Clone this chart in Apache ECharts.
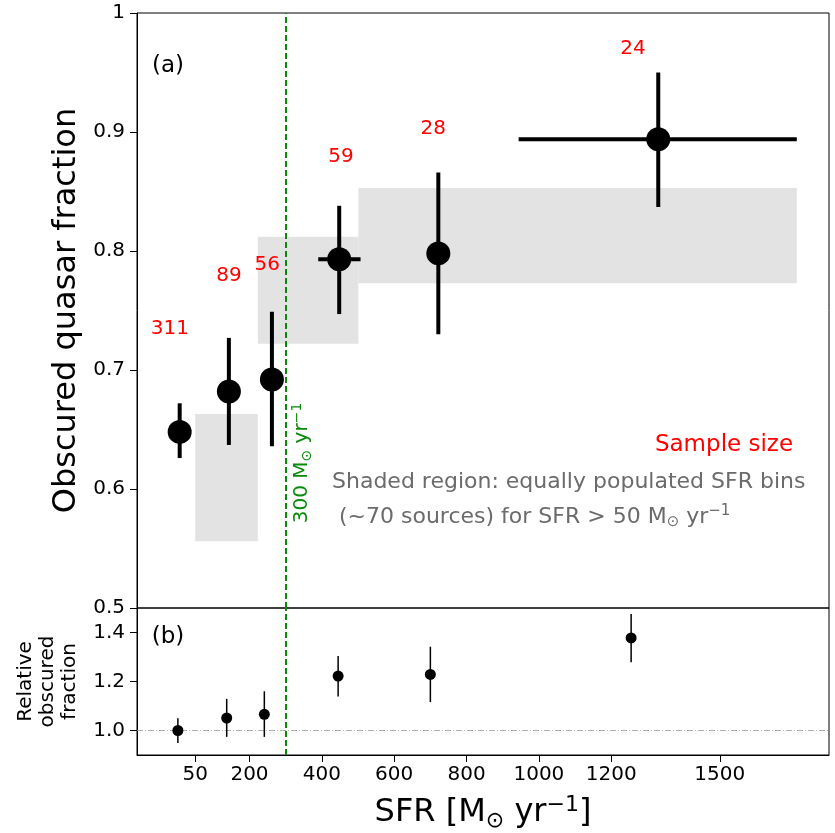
<!DOCTYPE html>
<html>
<head>
<meta charset="UTF-8">
<title>Obscured quasar fraction vs SFR</title>
<script src="https://cdn.jsdelivr.net/npm/echarts@6/dist/echarts.min.js"></script>
<style>
  * { margin: 0; padding: 0; }
  html, body { width: 835px; height: 833px; background: #fff; overflow: hidden; }
  #main { width: 835px; height: 833px; }
</style>
</head>
<body>
<div id="main"></div>
<script>
// ---- panel (a): obscured fraction per SFR bin ----
var sfrA    = [7, 143, 262, 448, 722, 1330];
var fracA   = [0.648, 0.682, 0.692, 0.793, 0.798, 0.894];
var fracLoA = [0.626, 0.637, 0.636, 0.747, 0.730, 0.837];
var fracHiA = [0.672, 0.727, 0.749, 0.838, 0.866, 0.950];
var sfrLoA  = [null, null, null, 390, null, 944];
var sfrHiA  = [null, null, null, 507, null, 1713];

// sample sizes and where they are written
var sampleSize = [311, 89, 56, 59, 28, 24];
var sampleX    = [-20, 143, 249, 453, 708, 1260];
var sampleY    = [0.735, 0.779, 0.788, 0.879, 0.903, 0.970];

// shaded, equally populated bins
var binLo     = [50, 223, 501];
var binHi     = [223, 501, 1713];
var binFracLo = [0.556, 0.722, 0.773];
var binFracHi = [0.663, 0.812, 0.853];

// ---- panel (b): relative obscured fraction ----
var sfrB   = [2, 137, 241, 445, 700, 1255];
var relB   = [1.000, 1.051, 1.066, 1.222, 1.229, 1.378];
var relLoB = [0.949, 0.974, 0.974, 1.139, 1.116, 1.279];
var relHiB = [1.050, 1.129, 1.160, 1.304, 1.342, 1.476];

// axes
var xTicks  = [50, 200, 400, 600, 800, 1000, 1200, 1500];
var yTicksB = [1.0, 1.2, 1.4];
var sfrCut  = 300;

var FONT = 'DejaVu Sans';
var GREEN = '#0a8a0a';
var GRAY = '#6b6b6b';
var chart = echarts.init(document.getElementById('main'));

function nz(v) { return v == null ? '-' : v; }

function errRender(lw) {
  return function (params, api) {
    var x = api.value(0), y = api.value(1);
    var kids = [];
    var a = api.coord([x, api.value(4)]), b = api.coord([x, api.value(5)]);
    kids.push({ type: 'line', shape: { x1: a[0], y1: a[1], x2: b[0], y2: b[1] },
                style: { stroke: '#000', lineWidth: lw } });
    var xl = api.value(2), xh = api.value(3);
    if (!isNaN(xl) && !isNaN(xh)) {
      var c = api.coord([xl, y]), d = api.coord([xh, y]);
      kids.push({ type: 'line', shape: { x1: c[0], y1: c[1], x2: d[0], y2: d[1] },
                  style: { stroke: '#000', lineWidth: lw } });
    }
    return { type: 'group', children: kids };
  };
}

function binRender(params, api) {
  var p0 = api.coord([api.value(0), api.value(3)]);
  var p1 = api.coord([api.value(1), api.value(2)]);
  return { type: 'rect',
           shape: { x: p0[0], y: p0[1], width: p1[0] - p0[0], height: p1[1] - p0[1] },
           style: { fill: '#e3e3e3' } };
}

// rich styles for the M_sun subscript and yr^-1 superscript
function unitRich(size, color) {
  var small = Math.round(size * 0.7);
  return {
    s: { fontFamily: FONT, fontSize: small, color: color, fill: color,
         verticalAlign: 'bottom', lineHeight: Math.round(size * 0.95) },
    p: { fontFamily: FONT, fontSize: small, color: color, fill: color,
         verticalAlign: 'top', lineHeight: small }
  };
}

var errA = sfrA.map(function (x, i) {
  return [x, fracA[i], nz(sfrLoA[i]), nz(sfrHiA[i]), fracLoA[i], fracHiA[i]];
});
var errB = sfrB.map(function (x, i) {
  return [x, relB[i], '-', '-', relLoB[i], relHiB[i]];
});
var bins = binLo.map(function (x, i) { return [x, binHi[i], binFracLo[i], binFracHi[i]]; });
var labels = sampleX.map(function (x, i) { return [x, sampleY[i], sampleSize[i]]; });

var tickLabel = { fontFamily: FONT, fontSize: 20, color: '#000' };

option = {
  animation: false,
  textStyle: { fontFamily: FONT },
  grid: [
    { left: 137, top: 13, width: 692, height: 595, show: true, borderColor: '#000', borderWidth: 1 },
    { left: 137, top: 608, width: 692, height: 148, show: true, borderColor: '#000', borderWidth: 1 }
  ],
  xAxis: [
    { type: 'value', gridIndex: 0, min: -111, max: 1802,
      axisLine: { show: false, onZero: false }, axisTick: { show: false }, axisLabel: { show: false },
      splitLine: { show: false } },
    { type: 'value', gridIndex: 1, min: -111, max: 1802,
      axisLine: { show: true, onZero: false, lineStyle: { color: '#000' } },
      axisTick: { show: true, length: 7, customValues: xTicks, lineStyle: { color: '#000' } },
      axisLabel: Object.assign({ margin: 10, customValues: xTicks,
        formatter: function (v) { return String(v); } }, tickLabel),
      splitLine: { show: false },
      name: 'SFR [M{s|⊙} yr{p|−1}]', nameLocation: 'middle', nameGap: 39,
      nameTextStyle: { fontFamily: FONT, fontSize: 32, lineHeight: 38, color: '#000',
        rich: unitRich(32, '#000') } }
  ],
  yAxis: [
    { type: 'value', gridIndex: 0, min: 0.5, max: 1, interval: 0.1,
      axisLine: { show: true, onZero: false, lineStyle: { color: '#000' } },
      axisTick: { show: true, length: 7, lineStyle: { color: '#000' } },
      axisLabel: Object.assign({ margin: 12, formatter: function (v) {
        return v === 1 ? '1' : v.toFixed(1); } }, tickLabel),
      splitLine: { show: false },
      name: 'Obscured quasar fraction', nameLocation: 'middle', nameGap: 52,
      nameTextStyle: { fontFamily: FONT, fontSize: 32, color: '#000' } },
    { type: 'value', gridIndex: 1, min: 0.9, max: 1.5,
      axisLine: { show: true, onZero: false, lineStyle: { color: '#000' } },
      axisTick: { show: true, length: 7, customValues: yTicksB, lineStyle: { color: '#000' } },
      axisLabel: Object.assign({ margin: 12, customValues: yTicksB, formatter: function (v) {
        return v.toFixed(1); } }, tickLabel),
      splitLine: { show: false },
      name: 'Relative\nobscured\nfraction', nameLocation: 'middle', nameGap: 56,
      nameTextStyle: { fontFamily: FONT, fontSize: 20, lineHeight: 22, color: '#000' } }
  ],
  series: [
    { type: 'custom', xAxisIndex: 0, yAxisIndex: 0, z: 1, silent: true,
      renderItem: binRender, data: bins },
    { type: 'custom', xAxisIndex: 0, yAxisIndex: 0, z: 3, silent: true,
      renderItem: errRender(4), data: errA },
    { type: 'scatter', xAxisIndex: 0, yAxisIndex: 0, z: 4, silent: true,
      symbolSize: 24, itemStyle: { color: '#000', opacity: 1 },
      data: sfrA.map(function (x, i) { return [x, fracA[i]]; }),
      markLine: { silent: true, symbol: 'none', label: { show: false }, z: 2,
        lineStyle: { color: GREEN, width: 2, type: [6, 3] },
        data: [{ xAxis: sfrCut }] } },
    { type: 'scatter', xAxisIndex: 0, yAxisIndex: 0, z: 5, silent: true,
      symbolSize: 1, itemStyle: { color: 'transparent', opacity: 1 },
      label: { show: true, position: 'inside', color: '#ff0000', opacity: 1,
        fontFamily: FONT, fontSize: 20, textBorderWidth: 0,
        formatter: function (p) { return p.value[2]; } },
      data: labels },
    { type: 'custom', xAxisIndex: 1, yAxisIndex: 1, z: 3, silent: true,
      renderItem: errRender(1.5), data: errB },
    { type: 'scatter', xAxisIndex: 1, yAxisIndex: 1, z: 4, silent: true,
      symbolSize: 11, itemStyle: { color: '#000', opacity: 1 },
      data: sfrB.map(function (x, i) { return [x, relB[i]]; }),
      markLine: { silent: true, symbol: 'none', label: { show: false }, z: 2,
        data: [
          { xAxis: sfrCut, lineStyle: { color: GREEN, width: 2, type: [6, 3] } },
          { yAxis: 1.0, lineStyle: { color: '#9a9a9a', width: 0.8, type: [6, 2, 1, 2] } }
        ] } }
  ],
  graphic: [
    { type: 'text', x: 168, y: 66, style: { text: '(a)', fontFamily: FONT, fontSize: 23,
        fill: '#000', align: 'center', verticalAlign: 'middle' } },
    { type: 'text', x: 168, y: 637, style: { text: '(b)', fontFamily: FONT, fontSize: 23,
        fill: '#000', align: 'center', verticalAlign: 'middle' } },
    { type: 'text', x: 724, y: 445, style: { text: 'Sample size', fontFamily: FONT, fontSize: 23,
        fill: '#ff0000', align: 'center', verticalAlign: 'middle' } },
    { type: 'text', x: 332, y: 482, style: { text: 'Shaded region: equally populated SFR bins',
        fontFamily: FONT, fontSize: 22, fill: GRAY, align: 'left', verticalAlign: 'middle' } },
    { type: 'text', x: 339, y: 517, style: { text: '(~70 sources) for SFR > 50 M{s|⊙} yr{p|−1}',
        fontFamily: FONT, fontSize: 22, lineHeight: 26, fill: GRAY, align: 'left',
        verticalAlign: 'middle', rich: unitRich(22, GRAY) } },
    { type: 'text', x: 302, y: 463, rotation: Math.PI / 2,
      style: { text: '300 M{s|⊙} yr{p|−1}', fontFamily: FONT, fontSize: 20, lineHeight: 24,
        fill: GREEN, align: 'center', verticalAlign: 'middle', rich: unitRich(20, GREEN) } }
  ]
};

chart.setOption(option);
</script>
</body>
</html>
